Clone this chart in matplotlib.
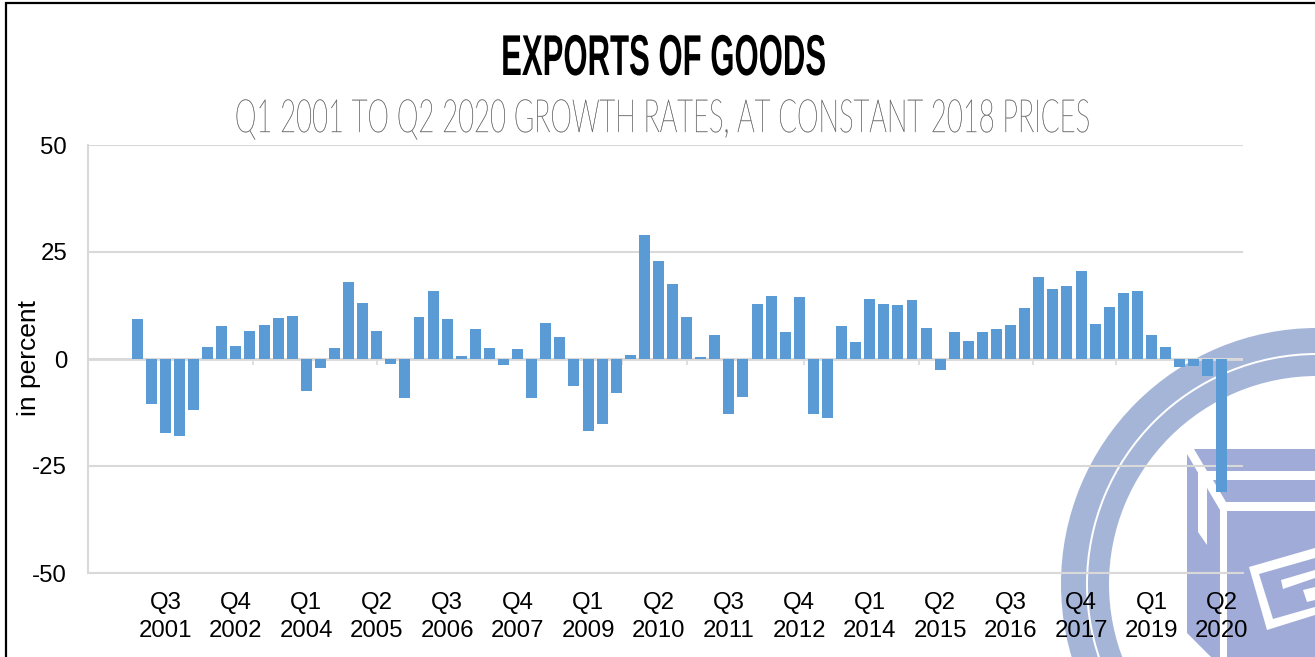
import matplotlib
matplotlib.use("Agg")
import matplotlib.pyplot as plt
import matplotlib.patheffects as pe
from matplotlib.patches import Polygon, Wedge
from matplotlib.transforms import Affine2D

plt.rcParams['font.family'] = ['Liberation Sans', 'DejaVu Sans']
plt.rcParams['axes.unicode_minus'] = False

# -------------------------------
# Data
# -------------------------------
growth = [
    9.3, -10.6, -17.2, -18.0, -12.0, 2.9, 7.6, 3.0, 6.5, 8.0,
    9.6, 10.0, -7.5, -2.2, 2.6, 18.1, 13.2, 6.6, -1.2, -9.2,
    9.9, 15.8, 9.3, 0.8, 6.9, 2.5, -1.3, 2.3, -9.2, 8.3,
    5.2, -6.4, -16.8, -15.3, -7.9, 0.9, 28.9, 22.8, 17.6, 9.9,
    0.4, 5.5, -12.8, -8.9, 12.9, 14.7, 6.2, 14.5, -12.8, -13.8,
    7.6, 4.0, 14.1, 12.9, 12.7, 13.7, 7.3, -2.5, 6.2, 4.1,
    6.2, 6.9, 7.9, 12.0, 19.1, 16.4, 17.0, 20.6, 8.1, 12.1,
    15.5, 16.0, 5.6, 2.9, -1.9, -1.7, -3.9, -31.1,
]
quarter_labels = ['Q3\n2001', 'Q4\n2002', 'Q1\n2004', 'Q2\n2005', 'Q3\n2006', 'Q4\n2007',
                  'Q1\n2009', 'Q2\n2010', 'Q3\n2011', 'Q4\n2012', 'Q1\n2014', 'Q2\n2015',
                  'Q3\n2016', 'Q4\n2017', 'Q1\n2019', 'Q2\n2020']
y_ticks = [-50, -25, 0, 25, 50]
stub_ticks = [8.2, 17, 34.4, 39, 47.3, 55.5, 63.6, 69.5]

GRID = '#D9D9D9'
BAR = '#5B9BD5'
RING = '#A5B5D8'
BOX = '#A0ACD7'


class TallText(pe.AbstractPathEffect):
    # stretches text up from its baseline, there is no condensed poster font here
    def __init__(self, baseline_px, sy, stroke=0):
        super().__init__()
        self.baseline_px = baseline_px
        self.sy = sy
        self.stroke = stroke

    def draw_path(self, renderer, gc, tpath, affine, rgbFace=None):
        t = affine + Affine2D().translate(0, -self.baseline_px).scale(1, self.sy).translate(0, self.baseline_px)
        gc0 = renderer.new_gc()
        gc0.copy_properties(gc)
        gc0.set_linewidth(self.stroke)
        if self.stroke:
            gc0.set_foreground(rgbFace)
        renderer.draw_path(gc0, tpath, t, rgbFace)
        gc0.restore()


fig = plt.figure(figsize=(13.15, 6.57), dpi=100, facecolor='white')

# -------------------------------
# Watermark (pixel coordinates)
# -------------------------------
bg = fig.add_axes([0, 0, 1, 1], zorder=0)
bg.set_xlim(0, 1315)
bg.set_ylim(657, 0)
bg.axis('off')

cx, cy = 1317, 584
bg.add_patch(Wedge((cx, cy), 256, 0, 360, width=25, fc=RING, ec='none'))
bg.add_patch(Wedge((cx, cy), 229, 0, 360, width=21, fc=RING, ec='none'))

box_faces = [
    [(1187, 454), (1220, 510), (1220, 657), (1211, 657), (1187, 633)],
    [(1194, 449), (1315, 449), (1315, 471), (1207, 471)],
    [(1213, 480), (1315, 480), (1315, 502), (1226, 502)],
    [(1227, 511), (1315, 511), (1315, 657), (1227, 657)],
]
for face in box_faces:
    bg.add_patch(Polygon(face, fc=BOX, ec='none'))

box_marks = [
    [(1198, 470), (1207, 485), (1207, 545), (1198, 532)],
    [(1249, 567), (1315, 548), (1315, 558), (1259, 574), (1273, 619), (1315, 607),
     (1315, 615), (1267, 630)],
    [(1281, 580), (1315, 570), (1315, 578), (1283, 589)],
    [(1303, 590), (1315, 587), (1315, 600), (1307, 602)],
]
for mark in box_marks:
    bg.add_patch(Polygon(mark, fc='white', ec='none'))

# frame of the screenshot
bg.plot([6.5, 6.5, 1315], [657, 3, 3], color='black', lw=1.6, solid_joinstyle='miter')

# -------------------------------
# Chart
# -------------------------------
ax = fig.add_axes([88 / 1315, 1 - 573 / 657, (1243 - 88) / 1315, (573 - 145) / 657], zorder=1)
ax.patch.set_alpha(0)
ax.bar(range(len(growth)), growth, width=0.78, color=BAR, zorder=3)
ax.set_xlim(-3.5, 78.5)
ax.set_ylim(-50, 50)

ax.set_yticks(y_ticks)
ax.set_xticks(range(2, len(growth), 5))
ax.set_xticklabels(quarter_labels, fontsize=17.3, linespacing=1.3)
ax.tick_params(axis='y', length=0, pad=15, labelsize=17.3)
ax.tick_params(axis='x', length=0, pad=14)
ax.yaxis.grid(True, color=GRID, lw=1.5, zorder=1)
ax.axhline(0, color=GRID, lw=2, zorder=2)
ax.vlines(stub_ticks, -1.4, 0, color=GRID, lw=1.2, zorder=2)

for side in ['top', 'right']:
    ax.spines[side].set_visible(False)
for side in ['left', 'bottom']:
    ax.spines[side].set_color(GRID)
    ax.spines[side].set_linewidth(1.5)

fig.text(29 / 1315, 1 - 358 / 657, 'in percent', rotation=90, ha='center', va='center',
         fontsize=19, color='black', zorder=5)

# -------------------------------
# Titles
# -------------------------------
fig.text(663.5 / 1315, 1 - 75 / 657, 'EXPORTS OF GOODS', ha='center', va='baseline',
         fontsize=22.4, fontweight='bold', color='black', zorder=5,
         path_effects=[TallText(657 - 75, 1.85)])
fig.text(662.5 / 1315, 1 - 132 / 657, 'Q1 2001 TO Q2 2020 GROWTH RATES, AT CONSTANT 2018 PRICES',
         ha='center', va='baseline', fontsize=19.8, family=['Lato', 'DejaVu Sans'], fontweight=100,
         color='#6a6a6a', zorder=5, path_effects=[TallText(657 - 132, 1.67, stroke=0.25)])

fig.savefig('out.png', dpi=100)
